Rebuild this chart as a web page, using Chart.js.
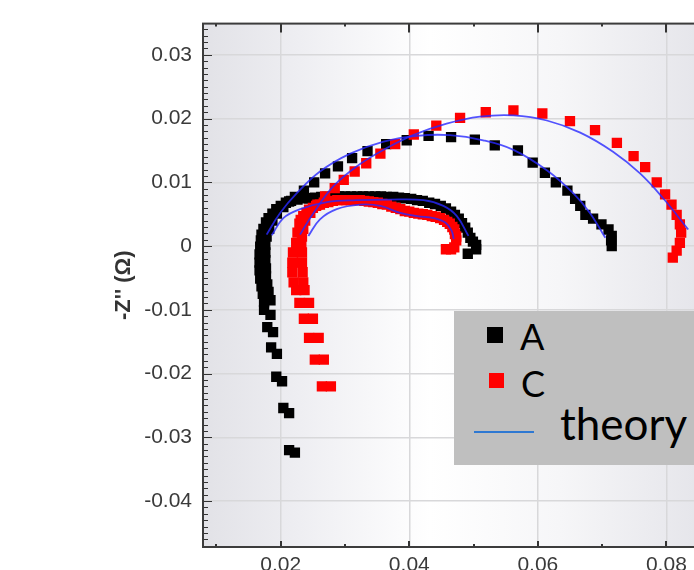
<!DOCTYPE html>
<html>
<head>
<meta charset="utf-8">
<script src="https://cdn.jsdelivr.net/npm/chart.js@4.4.1/dist/chart.umd.min.js"></script>
<style>
  html, body { margin: 0; padding: 0; background: #fff; overflow: hidden; width: 694px; height: 570px; }
  #wrap { position: absolute; left: 0; top: 0; width: 720px; height: 600px; }
  #legend { position: absolute; left: 454px; top: 311px; width: 280px; height: 154px; background: #bfbfbf; font-family: Lato, "Open Sans", sans-serif; color: #000; }
  #legend .sw { position: absolute; }
  #legend .lab { position: absolute; line-height: 1; white-space: nowrap; }
</style>
</head>
<body>
<div id="wrap"><canvas id="nyquist"></canvas></div>
<div id="legend">
  <span class="sw" style="left:33px;top:16px;width:16px;height:16px;background:#000"></span>
  <span class="lab" id="labA" style="left:66px;top:7px;font-size:36px"></span>
  <span class="sw" style="left:35px;top:62px;width:15px;height:15px;background:#ff0000"></span>
  <span class="lab" id="labC" style="left:67px;top:54px;font-size:36px"></span>
  <span class="sw" style="left:20px;top:120px;width:60px;height:2px;background:#2e78d2"></span>
  <span class="lab" id="labT" style="left:106px;top:90px;font-size:44px"></span>
</div>
<script>
// ===== Data (Z' in x, -Z'' in y, ohm) =====
const legendLabels = ["A", "C", "theory"];

const xTicks = [0.02, 0.04, 0.06, 0.08];
const xTickLabels = ["0.02", "0.04", "0.06", "0.08"];
const yTicks = [-0.04, -0.03, -0.02, -0.01, 0, 0.01, 0.02, 0.03];
const yTickLabels = ["-0.04", "-0.03", "-0.02", "-0.01", "0", "0.01", "0.02", "0.03"];

// A, small arc + tail
const seriesA1 = [
  [0.0168,-0.0001],[0.0169,0.0009],[0.0170,0.0018],[0.0173,0.0027],[0.0177,0.0037],[0.0181,0.0044],
  [0.0187,0.0051],[0.0193,0.0058],[0.0200,0.0063],[0.0208,0.0068],[0.0216,0.0071],[0.0226,0.0073],
  [0.0235,0.0075],[0.0244,0.0075],[0.0253,0.0076],[0.0263,0.0077],[0.0272,0.0077],[0.0281,0.0078],
  [0.0291,0.0078],[0.0300,0.0078],[0.0309,0.0078],[0.0319,0.0078],[0.0328,0.0078],[0.0337,0.0078],
  [0.0347,0.0078],[0.0356,0.0078],[0.0365,0.0077],[0.0375,0.0077],[0.0384,0.0076],[0.0393,0.0075],
  [0.0403,0.0074],[0.0412,0.0072],[0.0421,0.0071],[0.0431,0.0068],[0.0440,0.0066],[0.0449,0.0063],
  [0.0457,0.0059],[0.0465,0.0054],[0.0471,0.0049],[0.0477,0.0043],[0.0482,0.0036],[0.0487,0.0029],
  [0.0491,0.0021],[0.0495,0.0013],[0.0499,0.0007],[0.0504,0.0002],[0.0504,-0.0005],[0.0491,-0.0012],
  [0.0167,-0.0013],[0.0167,-0.0026],[0.0167,-0.0038],[0.0168,-0.0051],[0.0170,-0.0063],[0.0172,-0.0075],
  [0.0174,-0.0088],[0.0174,-0.0100],[0.0179,-0.0127],[0.0185,-0.0159],[0.0193,-0.0205],[0.0204,-0.0254],
  [0.0213,-0.0320]
];

// A, large arc + tail
const seriesA2 = [
  [0.0176,0.0002],[0.0178,0.0015],[0.0182,0.0027],[0.0187,0.0040],[0.0194,0.0051],[0.0204,0.0061],
  [0.0213,0.0070],[0.0222,0.0077],[0.0236,0.0087],[0.0252,0.0100],[0.0269,0.0114],[0.0289,0.0125],
  [0.0311,0.0138],[0.0335,0.0149],[0.0364,0.0160],[0.0396,0.0166],[0.0430,0.0173],[0.0465,0.0171],
  [0.0502,0.0167],[0.0533,0.0158],[0.0569,0.0150],[0.0592,0.0131],[0.0611,0.0115],[0.0628,0.0100],
  [0.0646,0.0087],[0.0658,0.0074],[0.0666,0.0063],[0.0674,0.0049],[0.0686,0.0043],[0.0699,0.0034],
  [0.0710,0.0026],[0.0715,0.0016],[0.0714,0.0009],[0.0715,0.0000],
  [0.0176,-0.0010],[0.0176,-0.0022],[0.0177,-0.0035],[0.0177,-0.0047],[0.0179,-0.0060],[0.0181,-0.0072],
  [0.0184,-0.0085],[0.0184,-0.0108],[0.0188,-0.0135],[0.0194,-0.0169],[0.0202,-0.0212],[0.0213,-0.0262],
  [0.0222,-0.0324]
];

// C, small arc + tail
const seriesC1 = [
  [0.0224,0.0005],[0.0226,0.0021],[0.0229,0.0035],[0.0231,0.0041],[0.0235,0.0047],[0.0240,0.0052],
  [0.0244,0.0057],[0.0250,0.0060],[0.0255,0.0063],[0.0261,0.0065],[0.0267,0.0068],[0.0274,0.0069],
  [0.0281,0.0071],[0.0288,0.0072],[0.0295,0.0072],[0.0302,0.0072],[0.0309,0.0072],[0.0316,0.0072],
  [0.0323,0.0072],[0.0330,0.0071],[0.0337,0.0070],[0.0344,0.0069],[0.0351,0.0068],[0.0358,0.0066],
  [0.0365,0.0065],[0.0372,0.0062],[0.0379,0.0060],[0.0386,0.0058],[0.0393,0.0055],[0.0400,0.0054],
  [0.0407,0.0052],[0.0414,0.0051],[0.0421,0.0050],[0.0428,0.0049],[0.0435,0.0047],[0.0441,0.0046],
  [0.0448,0.0044],[0.0454,0.0041],[0.0459,0.0038],[0.0463,0.0035],[0.0467,0.0030],[0.0470,0.0026],
  [0.0471,0.0019],[0.0473,0.0015],[0.0473,0.0009],[0.0470,-0.0002],[0.0465,-0.0005],[0.0457,-0.0005],
  [0.0219,-0.0010],[0.0218,-0.0026],[0.0218,-0.0041],[0.0220,-0.0057],[0.0224,-0.0069],[0.0229,-0.0089],
  [0.0236,-0.0114],[0.0244,-0.0144],[0.0253,-0.0178],[0.0264,-0.0220]
];

// C, large arc + tail
const seriesC2 = [
  [0.0232,0.0002],[0.0233,0.0015],[0.0235,0.0027],[0.0238,0.0040],[0.0246,0.0052],[0.0257,0.0065],
  [0.0269,0.0078],[0.0284,0.0091],[0.0298,0.0104],[0.0315,0.0117],[0.0333,0.0130],[0.0355,0.0145],
  [0.0378,0.0160],[0.0407,0.0175],[0.0442,0.0189],[0.0479,0.0201],[0.0519,0.0210],[0.0562,0.0213],
  [0.0607,0.0208],[0.0650,0.0196],[0.0689,0.0182],[0.0723,0.0162],[0.0749,0.0141],[0.0767,0.0124],
  [0.0785,0.0100],[0.0798,0.0081],[0.0808,0.0065],[0.0816,0.0049],[0.0821,0.0034],[0.0823,0.0021],
  [0.0821,0.0005],[0.0816,-0.0007],[0.0810,-0.0018],
  [0.0233,-0.0010],[0.0233,-0.0026],[0.0234,-0.0041],[0.0235,-0.0057],[0.0237,-0.0069],[0.0244,-0.0089],
  [0.0250,-0.0114],[0.0259,-0.0144],[0.0267,-0.0178],[0.0278,-0.0220]
];

// fitted curves
const theoryA1 = [
  [0.0186,0.0017],[0.0204,0.0044],[0.0230,0.0058],[0.0272,0.0069],[0.0318,0.0072],
  [0.0370,0.0073],[0.0422,0.0072],[0.0453,0.0063],[0.0474,0.0047],[0.0492,0.0016]
];
const theoryA2 = [
  [0.0178,0.0018],[0.0199,0.0052],[0.0225,0.0083],[0.0261,0.0117],[0.0308,0.0145],[0.0360,0.0164],
  [0.0412,0.0173],[0.0463,0.0174],[0.0515,0.0166],[0.0562,0.0151],[0.0614,0.0119],[0.0655,0.0083],
  [0.0681,0.0052],[0.0705,0.0013]
];
const theoryC1 = [
  [0.0243,0.0016],[0.0261,0.0042],[0.0287,0.0058],[0.0323,0.0065],[0.0355,0.0063],[0.0386,0.0052],
  [0.0412,0.0047],[0.0438,0.0044],[0.0456,0.0037],[0.0466,0.0024],[0.0469,0.0011]
];
const theoryC2 = [
  [0.0230,0.0018],[0.0251,0.0052],[0.0282,0.0094],[0.0318,0.0125],[0.0360,0.0151],[0.0406,0.0174],
  [0.0458,0.0192],[0.0510,0.0203],[0.0562,0.0205],[0.0614,0.0197],[0.0666,0.0178],[0.0717,0.0148],
  [0.0759,0.0114],[0.0795,0.0075],[0.0834,0.0026]
];

// ===== Legend text =====
document.getElementById("labA").textContent = legendLabels[0];
document.getElementById("labC").textContent = legendLabels[1];
document.getElementById("labT").textContent = legendLabels[2];

function pts(arr) {
  return arr.map(p => ({ x: p[0], y: p[1] }));
}

function markers(arr, color) {
  return {
    type: "scatter",
    data: pts(arr),
    showLine: false,
    pointStyle: "rect",
    pointRadius: 7.3,
    pointBorderWidth: 0,
    backgroundColor: color,
    borderColor: color,
    order: 2
  };
}

function fitLine(arr) {
  return {
    type: "line",
    data: pts(arr),
    borderColor: "rgba(40,40,255,0.8)",
    borderWidth: 1.8,
    pointRadius: 0,
    tension: 0.4,
    fill: false,
    order: 1
  };
}

// plot background (soft grey -> white -> grey)
const plotBackground = {
  id: "plotBackground",
  beforeDraw(chart) {
    const { ctx, chartArea: a } = chart;
    const w = a.right - a.left;
    const g = ctx.createLinearGradient(a.left, 0, a.right, 0);
    g.addColorStop(0, "#e2e2e7");
    g.addColorStop((300 - a.left) / w, "#eeeef2");
    g.addColorStop((430 - a.left) / w, "#ffffff");
    g.addColorStop((560 - a.left) / w, "#f6f6f8");
    g.addColorStop((694 - a.left) / w, "#e6e6eb");
    g.addColorStop(1, "#e3e3e8");
    ctx.save();
    ctx.fillStyle = g;
    ctx.fillRect(a.left, a.top, w, a.bottom - a.top);
    ctx.restore();
  }
};

// frame + inward ticks
const frameTicks = {
  id: "frameTicks",
  afterDatasetsDraw(chart) {
    const { ctx, chartArea: a, scales: { x, y } } = chart;
    ctx.save();
    ctx.strokeStyle = "#333";
    ctx.lineWidth = 1;
    for (let i = -47; i <= 34; i++) {
      const py = Math.round(y.getPixelForValue(i / 1000)) + 0.5;
      const len = i % 10 === 0 ? 9 : 5;
      ctx.beginPath();
      ctx.moveTo(a.left, py);
      ctx.lineTo(a.left + len, py);
      ctx.stroke();
    }
    ctx.lineWidth = 2;
    for (let i = 1; i <= 8; i++) {
      const px = Math.round(x.getPixelForValue(i / 100));
      const major = i % 2 === 0;
      ctx.beginPath();
      ctx.moveTo(px, a.bottom);
      ctx.lineTo(px, a.bottom - (major ? 6 : 3));
      ctx.moveTo(px, a.top);
      ctx.lineTo(px, a.top + (major ? 9 : 3));
      ctx.stroke();
    }
    ctx.strokeStyle = "#3c3c3c";
    ctx.strokeRect(a.left, a.top, a.right - a.left, a.bottom - a.top);
    ctx.restore();
  }
};

const tickFont = { family: "'Liberation Sans', Arial, sans-serif", size: 21 };

new Chart(document.getElementById("nyquist"), {
  type: "scatter",
  data: {
    datasets: [
      fitLine(theoryA1),
      fitLine(theoryA2),
      fitLine(theoryC1),
      fitLine(theoryC2),
      markers(seriesC1, "#ff0000"),
      markers(seriesC2, "#ff0000"),
      markers(seriesA1, "#000000"),
      markers(seriesA2, "#000000")
    ]
  },
  options: {
    responsive: true,
    maintainAspectRatio: false,
    animation: false,
    events: [],
    layout: { padding: { top: 19, right: 8, left: 0, bottom: 0 } },
    plugins: { legend: { display: false }, tooltip: { enabled: false } },
    scales: {
      x: {
        type: "linear",
        min: 0.0079,
        max: 0.0871,
        afterBuildTicks: s => { s.ticks = xTicks.map(v => ({ value: v })); },
        afterFit: s => { s.height = 53; },
        grid: { color: "#d8d8da", lineWidth: 1.5, drawTicks: false },
        border: { display: false },
        ticks: {
          padding: 6,
          color: "#3a3a3a",
          font: tickFont,
          maxRotation: 0,
          callback: (v, i) => xTickLabels[i]
        }
      },
      y: {
        type: "linear",
        min: -0.0472,
        max: 0.0349,
        afterBuildTicks: s => { s.ticks = yTicks.map(v => ({ value: v })); },
        afterFit: s => { s.width = 203; },
        grid: { color: "#d8d8da", lineWidth: 1.5, drawTicks: false },
        border: { display: false },
        ticks: {
          padding: 11,
          color: "#3a3a3a",
          font: tickFont,
          callback: (v, i) => yTickLabels[i]
        },
        title: {
          display: true,
          text: "-Z'' (\u03A9)",
          color: "#333",
          font: { family: "'Liberation Sans', Arial, sans-serif", size: 22, weight: "bold" },
          padding: { top: 111, bottom: 0 }
        }
      }
    }
  },
  plugins: [plotBackground, frameTicks]
});
</script>
</body>
</html>
